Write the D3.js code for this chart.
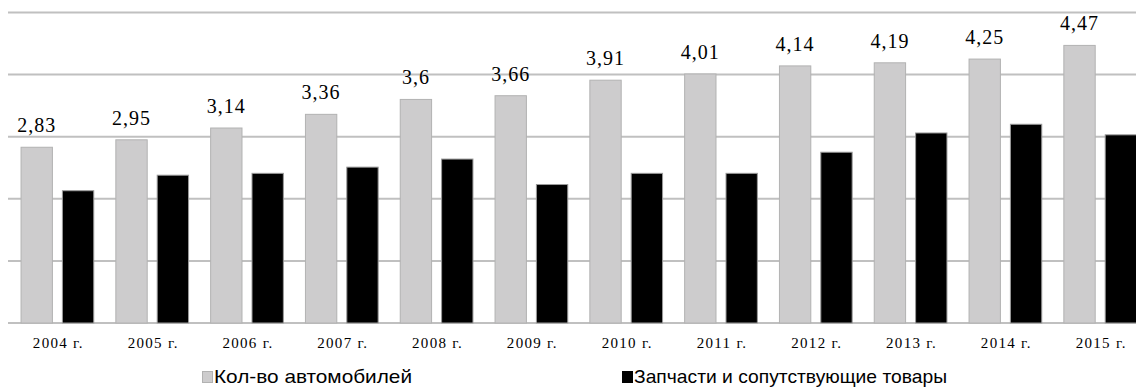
<!DOCTYPE html>
<html>
<head>
<meta charset="utf-8">
<script src="https://cdn.jsdelivr.net/npm/d3@7"></script>
<style>
  html, body { margin: 0; padding: 0; background: #fff; }
  svg { display: block; }
</style>
</head>
<body>
<svg id="chart" width="1136" height="390"></svg>
<script>
const categories = ["2004 г.", "2005 г.", "2006 г.", "2007 г.", "2008 г.", "2009 г.", "2010 г.", "2011 г.", "2012 г.", "2013 г.", "2014 г.", "2015 г."];
const cars  = [2.83, 2.95, 3.14, 3.36, 3.6, 3.66, 3.91, 4.01, 4.14, 4.19, 4.25, 4.47];
const parts = [2.13, 2.38, 2.41, 2.51, 2.64, 2.23, 2.41, 2.41, 2.75, 3.06, 3.20, 3.03];
const seriesNames = ["Кол-во автомобилей", "Запчасти и сопутствующие товары"];
const yTicks = [0, 1, 2, 3, 4, 5];

const svg = d3.select("#chart");
const W = 1136;

const x = d3.scaleBand().domain(categories).range([10, 1147.6]).paddingInner(0.233).paddingOuter(0.1165);
const xs = d3.scaleBand().domain(["cars", "parts"]).range([0, x.bandwidth()]).paddingInner(0.242).paddingOuter(0);
const y = d3.scaleLinear().domain([0, 5]).range([323, 12.5]);

// gridlines
svg.append("g").selectAll("line").data(yTicks).join("line")
  .attr("x1", 8).attr("x2", W)
  .attr("y1", d => y(d)).attr("y2", d => y(d))
  .attr("stroke", "#c0c0c0").attr("stroke-width", 2);

const data = categories.map((c, i) => ({ c, cars: cars[i], parts: parts[i] }));

// gray bars
svg.append("g").selectAll("rect").data(data).join("rect")
  .attr("x", d => x(d.c) + xs("cars"))
  .attr("width", xs.bandwidth())
  .attr("y", d => y(d.cars))
  .attr("height", d => y(0) - y(d.cars))
  .attr("fill", "#cdcccd").attr("stroke", "#b2b2b2").attr("stroke-width", 1);

// black bars
svg.append("g").selectAll("rect").data(data).join("rect")
  .attr("x", d => x(d.c) + xs("parts"))
  .attr("width", xs.bandwidth())
  .attr("y", d => y(d.parts))
  .attr("height", d => y(0) - y(d.parts))
  .attr("fill", "#000").attr("stroke", "#9a9a9a").attr("stroke-width", 1);

// value labels
svg.append("g").selectAll("text").data(data).join("text")
  .attr("x", d => x(d.c) + xs("cars") + xs.bandwidth() / 2)
  .attr("y", d => y(d.cars) - 15)
  .attr("text-anchor", "middle")
  .attr("font-family", "Liberation Serif, Times New Roman, serif")
  .attr("font-size", 20)
  .attr("letter-spacing", "1px")
  .attr("fill", "#000")
  .text(d => String(d.cars).replace(".", ","));

// x axis labels
svg.append("g").selectAll("text").data(categories).join("text")
  .attr("x", d => x(d) + x.bandwidth() / 2 + 1)
  .attr("y", 348)
  .attr("text-anchor", "middle")
  .attr("font-family", "Liberation Serif, Times New Roman, serif")
  .attr("font-size", 15)
  .attr("letter-spacing", "1.3px")
  .attr("fill", "#000")
  .text(d => d);

// legend
const legend = [
  { name: seriesNames[0], fill: "#cdcccd", stroke: "#b2b2b2", x: 202, len: 198 },
  { name: seriesNames[1], fill: "#000", stroke: "#000", x: 622, len: 313 }
];
const lg = svg.append("g").selectAll("g").data(legend).join("g");
lg.append("rect")
  .attr("x", d => d.x + 0.5).attr("y", 371.5)
  .attr("width", 10).attr("height", 11)
  .attr("fill", d => d.fill).attr("stroke", d => d.stroke).attr("stroke-width", 1);
lg.append("text")
  .attr("x", d => d.x + 12).attr("y", 383)
  .attr("font-family", "Liberation Sans, Arial, sans-serif")
  .attr("font-size", 19)
  .attr("fill", "#000")
  .attr("textLength", d => d.len)
  .attr("lengthAdjust", "spacingAndGlyphs")
  .text(d => d.name);
</script>
</body>
</html>
